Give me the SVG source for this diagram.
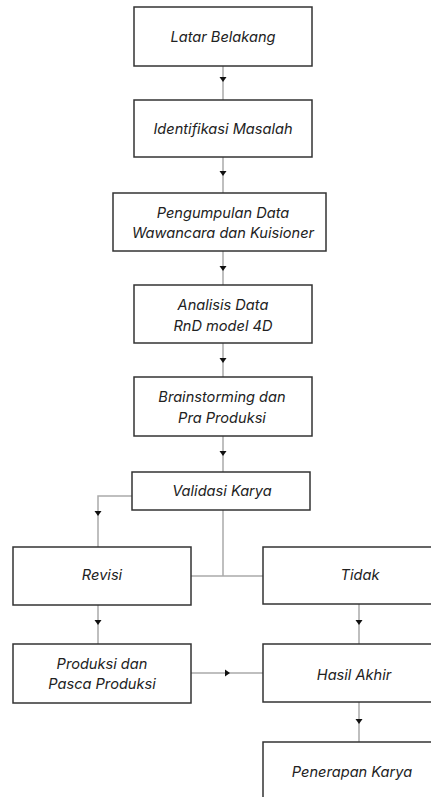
<svg xmlns="http://www.w3.org/2000/svg" xmlns:xlink="http://www.w3.org/1999/xlink" width="431" height="797" viewBox="0 0 431 797">
<style>
.box{fill:#fff;stroke:#333;stroke-width:1.5}
.t{font-family:Inter,"Liberation Sans",sans-serif;font-style:italic;font-size:14.6px;fill:#222;text-anchor:middle;dominant-baseline:central}
.c{fill:none;stroke:#aaa;stroke-width:1.5}
</style>
<defs>
<polygon id="ad" points="-3.5,-5 3.5,-5 0,0" fill="#111"/>
<polygon id="ar" points="-5,-3.5 -5,3.5 0,0" fill="#111"/>
</defs>
<rect width="431" height="797" fill="#fff"/>
<g id="connectors">
<path class="c" d="M223,66V100M223,157V193M223,251V285M223,343V377M223,436V472M223,510V576M191,576H263"/>
<path class="c" d="M132,496H98V547M98,605V644M359,604V644M359,702V742M191,673H263"/>
<use xlink:href="#ad" x="223" y="82"/>
<use xlink:href="#ad" x="223" y="176"/>
<use xlink:href="#ad" x="223" y="271"/>
<use xlink:href="#ad" x="223" y="363"/>
<use xlink:href="#ad" x="223" y="456"/>
<use xlink:href="#ad" x="98" y="516"/>
<use xlink:href="#ad" x="98" y="625"/>
<use xlink:href="#ad" x="359" y="625"/>
<use xlink:href="#ad" x="359" y="724"/>
<use xlink:href="#ar" x="230" y="673"/>
</g>
<g id="n1"><rect class="box" x="134" y="7" width="178" height="59"/><text class="t" x="223" y="37">Latar Belakang</text></g>
<g id="n2"><rect class="box" x="134" y="100" width="178" height="57"/><text class="t" x="223" y="129">Identifikasi Masalah</text></g>
<g id="n3"><rect class="box" x="113" y="193" width="213" height="58"/><text class="t" x="223" y="213">Pengumpulan Data</text><text class="t" x="223" y="233">Wawancara dan Kuisioner</text></g>
<g id="n4"><rect class="box" x="134" y="285" width="178" height="58"/><text class="t" x="223" y="305">Analisis Data</text><text class="t" x="223" y="326">RnD model 4D</text></g>
<g id="n5"><rect class="box" x="134" y="377" width="178" height="59"/><text class="t" x="222" y="397">Brainstorming dan</text><text class="t" x="222" y="418">Pra Produksi</text></g>
<g id="n6"><rect class="box" x="132" y="472" width="178" height="38"/><text class="t" x="222" y="491">Validasi Karya</text></g>
<g id="n7"><rect class="box" x="13" y="547" width="178" height="58"/><text class="t" x="102" y="575">Revisi</text></g>
<g id="n8"><rect class="box" x="263" y="547" width="190" height="57"/><text class="t" x="360" y="575">Tidak</text></g>
<g id="n9"><rect class="box" x="13" y="644" width="178" height="59"/><text class="t" x="102" y="664">Produksi dan</text><text class="t" x="102" y="684">Pasca Produksi</text></g>
<g id="n10"><rect class="box" x="263" y="644" width="190" height="58"/><text class="t" x="354" y="675">Hasil Akhir</text></g>
<g id="n11"><rect class="box" x="263" y="742" width="190" height="70"/><text class="t" x="352" y="772">Penerapan Karya</text></g>
</svg>
